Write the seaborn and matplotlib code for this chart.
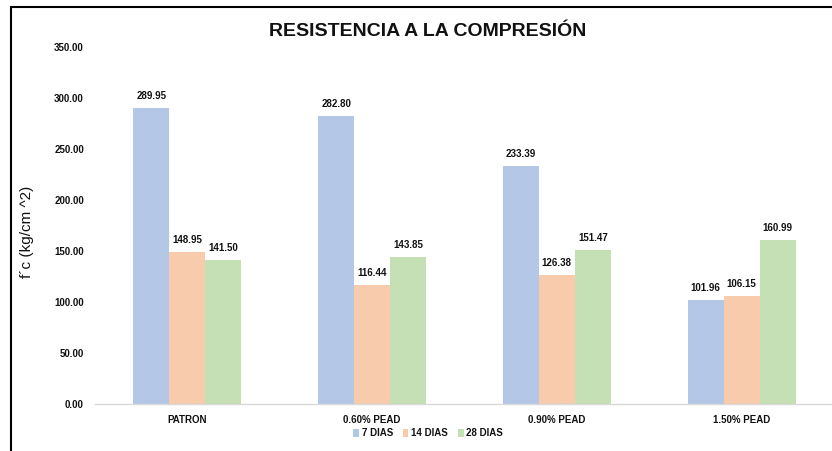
import matplotlib
matplotlib.use('Agg')
import matplotlib.pyplot as plt
import seaborn as sns
import pandas as pd
from matplotlib.lines import Line2D

# data
categorias = ['PATRON', '0.60% PEAD', '0.90% PEAD', '1.50% PEAD']
edades = ['7 DIAS', '14 DIAS', '28 DIAS']
dias_7 = [289.95, 282.80, 233.39, 101.96]
dias_14 = [148.95, 116.44, 126.38, 106.15]
dias_28 = [141.50, 143.85, 151.47, 160.99]
colores = ['#B4C7E7', '#F8CBAD', '#C5E0B4']

df = pd.DataFrame({
    'categoria': categorias * 3,
    'edad': [edades[0]] * 4 + [edades[1]] * 4 + [edades[2]] * 4,
    'fc': dias_7 + dias_14 + dias_28,
})

sns.set_theme(style='white')
plt.rcParams['font.family'] = ['Liberation Sans', 'DejaVu Sans']
plt.rcParams['text.color'] = '#111111'
plt.rcParams['axes.labelcolor'] = '#111111'
plt.rcParams['xtick.color'] = '#111111'
plt.rcParams['ytick.color'] = '#111111'

fig = plt.figure(figsize=(8.32, 4.51), dpi=100)
ax = fig.add_axes([95 / 832, 1 - 404 / 451, (834 - 95) / 832, (404 - 47) / 451])

sns.barplot(data=df, x='categoria', y='fc', hue='edad', palette=colores,
            width=0.585, gap=0, saturation=1, linewidth=0, ax=ax, legend=True)

for cont in ax.containers:
    ax.bar_label(cont, fmt='%.2f', padding=5, fontsize=7, fontweight='bold')

ax.set_ylim(0, 350)
ax.set_xlim(-0.5, 3.5)
ax.set_yticks(range(0, 351, 50))
ax.set_yticklabels([f'{v:.2f}' for v in range(0, 351, 50)], fontsize=7, fontweight='bold')
ax.set_xticklabels(categorias, fontsize=7, fontweight='bold')
ax.tick_params(axis='y', pad=8, length=0)
ax.tick_params(axis='x', pad=8, length=0)
ax.set_xlabel('')
ax.set_ylabel("f´c (kg/cm ^2)", fontsize=11)
ax.yaxis.set_label_coords((34 - 95) / 739, (404 - 232) / 357)

for s in ['top', 'right', 'left']:
    ax.spines[s].set_visible(False)
ax.spines['bottom'].set_color('#D9D9D9')
ax.spines['bottom'].set_linewidth(1)

ax.legend(loc='center', bbox_to_anchor=((428 - 95) / 739, (404 - 433) / 357),
          ncol=3, frameon=False, handlelength=0.6, handleheight=0.9,
          handletextpad=0.3, columnspacing=1.0, prop={'weight': 'bold', 'size': 7})

fig.text(428 / 832, 1 - 32 / 451, 'RESISTENCIA A LA COMPRESIÓN', ha='center', va='center',
         fontsize=14, fontweight='bold')

# black frame on top and left
fig.add_artist(Line2D([11 / 832, 1], [1 - 7 / 451, 1 - 7 / 451], color='black', lw=1.5,
                      transform=fig.transFigure))
fig.add_artist(Line2D([11 / 832, 11 / 832], [0, 1 - 7 / 451], color='black', lw=1.5,
                      transform=fig.transFigure))

fig.savefig('out.png', dpi=100)
